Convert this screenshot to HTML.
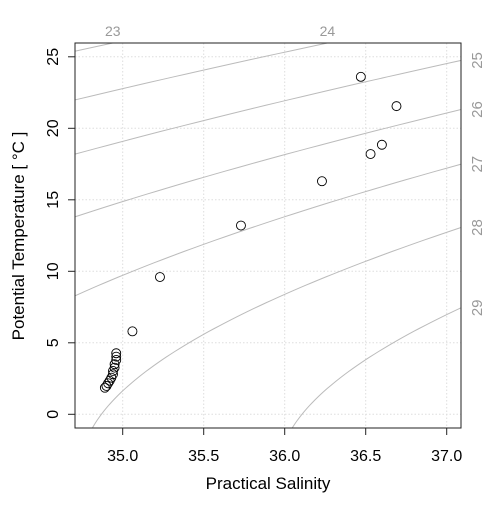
<!DOCTYPE html>
<html><head><meta charset="utf-8"><style>
body{margin:0;background:#fff}
svg text{font-family:"Liberation Sans",Arial,sans-serif}
</style></head><body>
<svg id="chart" width="504" height="504" viewBox="0 0 504 504" xmlns="http://www.w3.org/2000/svg">
<defs><clipPath id="pc"><rect x="75" y="43" width="386" height="385"/></clipPath></defs>
<g id="grid"></g>
<g id="contours" clip-path="url(#pc)"></g>
<g id="clabels"></g>
<g id="points"></g>
<rect x="75" y="43" width="386" height="385" fill="none" stroke="#222" stroke-width="1"/>
<g id="axes"></g>
<text x="268" y="489" font-size="17" text-anchor="middle">Practical Salinity</text>
<text transform="translate(24,236) rotate(-90)" font-size="17" text-anchor="middle">Potential Temperature [ °C ]</text>
</svg>
<script>
const salinity=[36.47,36.69,36.60,36.53,36.23,35.73,35.23,35.06,34.89,34.90,34.91,34.92,34.93,34.94,34.94,34.95,34.95,34.96,34.96,34.96];
const temperature=[23.6,21.55,18.85,18.2,16.3,13.2,9.6,5.8,1.86,1.98,2.17,2.35,2.56,2.8,3.03,3.26,3.5,3.8,4.03,4.27];
const xTicks=[35.0,35.5,36.0,36.5,37.0];
const xTickLabels=["35.0","35.5","36.0","36.5","37.0"];
const yTicks=[0,5,10,15,20,25];
const yTickLabels=["0","5","10","15","20","25"];
const sigmaLevels=[23,24,25,26,27,28,29];

const NS="http://www.w3.org/2000/svg";
const L=75,R=461,T=43,B=428;
const sx=s=>122.7+(s-35)*162;
const sy=t=>414.3-t*14.3;
const Smin=35+(L-122.7)/162,Smax=35+(R-122.7)/162;
const Tmin=(414.3-B)/14.3,Tmax=(414.3-T)/14.3;
function mk(tag,attrs,parent){const e=document.createElementNS(NS,tag);for(const k in attrs)e.setAttribute(k,attrs[k]);parent.appendChild(e);return e;}
function sigma(S,t){
 const rw=999.842594+6.793952e-2*t-9.095290e-3*t*t+1.001685e-4*t**3-1.120083e-6*t**4+6.536332e-9*t**5;
 const A=0.824493-4.0899e-3*t+7.6438e-5*t*t-8.2467e-7*t**3+5.3875e-9*t**4;
 const Bc=-5.72466e-3+1.0227e-4*t-1.6546e-6*t*t;
 return rw+A*S+Bc*Math.pow(S,1.5)+4.8314e-4*S*S-1000;
}
function solveS(sig,t){let a=25,b=45;for(let i=0;i<60;i++){const m=(a+b)/2;if(sigma(m,t)<sig)a=m;else b=m;}return (a+b)/2;}
function solveT(sig,S){let a=-3,b=40;for(let i=0;i<60;i++){const m=(a+b)/2;if(sigma(S,m)>sig)a=m;else b=m;}return (a+b)/2;}

const grid=document.getElementById('grid'),axes=document.getElementById('axes');
xTicks.forEach((v,i)=>{
 const x=sx(v);
 const g=mk('line',{x1:x,x2:x,y1:T,y2:B,stroke:'#ddd','stroke-dasharray':'1.5,2'},grid);
 
 
 const tk=mk('line',{x1:x,x2:x,y1:B,y2:B+7,stroke:'#222'},axes);
 
 
 const tx=mk('text',{x:x,y:B+33,'font-size':16,'text-anchor':'middle'},axes);
 tx.textContent=xTickLabels[i];
 
 
});
yTicks.forEach((v,i)=>{
 const y=sy(v);
 const g=mk('line',{x1:L,x2:R,y1:y,y2:y,stroke:'#ddd','stroke-dasharray':'1.5,2'},grid);
 
 
 const tk=mk('line',{x1:L-7,x2:L,y1:y,y2:y,stroke:'#222'},axes);
 
 
 const tx=mk('text',{transform:`translate(${L-17},${y}) rotate(-90)`,'font-size':16,'text-anchor':'middle'},axes);
 tx.textContent=yTickLabels[i];
 
 
});
const cg=document.getElementById('contours'),lg=document.getElementById('clabels');
sigmaLevels.forEach(sg=>{
 let d='';
 for(let t=-2;t<=28;t+=0.2){const S=solveS(sg,t);d+=(d?'L':'M')+sx(S).toFixed(2)+','+sy(t).toFixed(2);}
 const p=mk('path',{d:d,fill:'none',stroke:'#bbb','stroke-width':1},cg);
 
 
 const Stop=solveS(sg,Tmax);
 let lab;
 if(Stop<=Smax){
  lab=mk('text',{x:sx(Stop),y:T-7,'font-size':14,'text-anchor':'middle',fill:'#999'},lg);
 }else{
  const tr=solveT(sg,Smax);
  lab=mk('text',{transform:`translate(${R+21},${sy(tr)}) rotate(-90)`,'font-size':15,'text-anchor':'middle',fill:'#999'},lg);
 }
 lab.textContent=String(sg);
 
 
});
const pg=document.getElementById('points');
salinity.forEach((s,i)=>{
 const c=mk('circle',{cx:sx(s),cy:sy(temperature[i]),r:4.5,fill:'none',stroke:'#000','stroke-width':0.9},pg);
 
 
});
</script>
</body></html>
